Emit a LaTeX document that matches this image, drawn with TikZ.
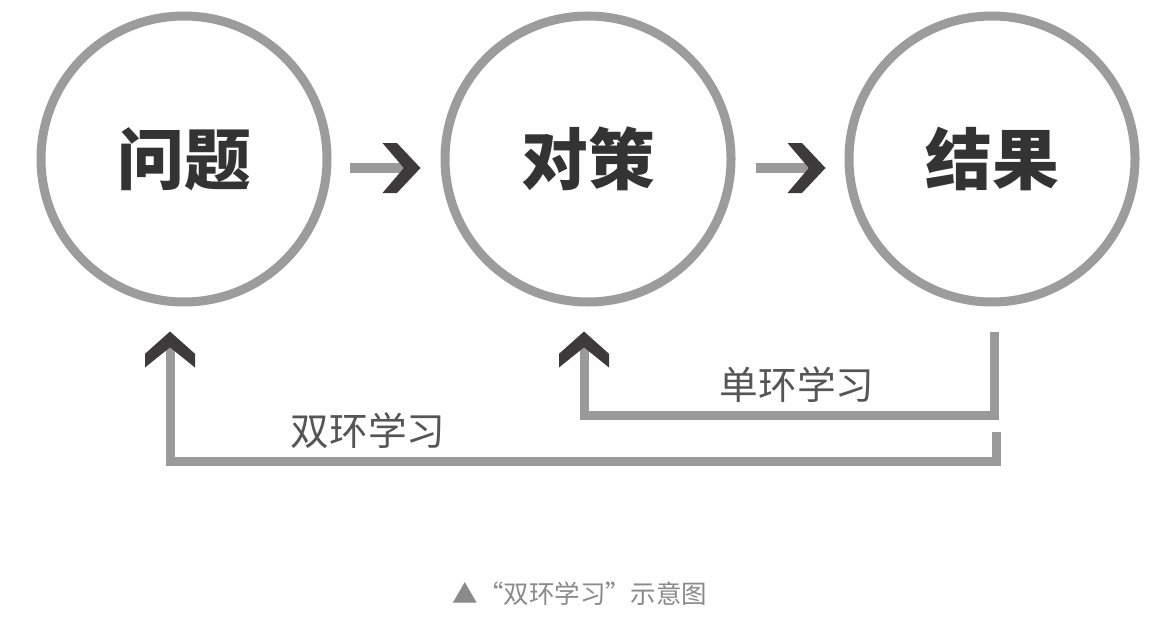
\documentclass[tikz,border=0pt]{standalone}
\usepackage{fontspec}
\setmainfont{Noto Sans CJK SC}
\usepackage{xcolor}
\usepackage{tikz}
\usetikzlibrary{arrows.meta, positioning}
\definecolor{ringgray}{HTML}{9C9C9C}
\definecolor{shaftgray}{HTML}{9A9A9A}
\definecolor{chevron}{HTML}{3D3A3B}
\definecolor{titletext}{HTML}{333333}
\definecolor{looptext}{HTML}{555555}
\definecolor{captext}{HTML}{8A8A8A}

% thick chevron head with flat cut ends
\pgfdeclarearrow{
  name = Chevron,
  parameters = {\the\pgfarrowlength,\the\pgfarrowwidth},
  setup code = {
    \pgfarrowssettipend{\pgfarrowlength}
    \pgfarrowssetlineend{0.56\pgfarrowlength}
    \pgfarrowssetbackend{0pt}
    \pgfarrowshullpoint{\pgfarrowlength}{0pt}
    \pgfarrowsupperhullpoint{0pt}{0.5\pgfarrowwidth}
    \pgfarrowssavethe\pgfarrowlength
    \pgfarrowssavethe\pgfarrowwidth
  },
  drawing code = {
    \pgfpathmoveto{\pgfpoint{0pt}{0.5\pgfarrowwidth}}
    \pgfpathlineto{\pgfpoint{0.38\pgfarrowlength}{0.5\pgfarrowwidth}}
    \pgfpathlineto{\pgfpoint{\pgfarrowlength}{0pt}}
    \pgfpathlineto{\pgfpoint{0.38\pgfarrowlength}{-0.5\pgfarrowwidth}}
    \pgfpathlineto{\pgfpoint{0pt}{-0.5\pgfarrowwidth}}
    \pgfpathlineto{\pgfpoint{0.56\pgfarrowlength}{0pt}}
    \pgfpathclose
    \pgfusepathqfill
  },
  defaults = {length=0.74cm, width=1cm}
}

\begin{document}
\begin{tikzpicture}[
    phase/.style={
      circle,
      draw=ringgray,
      line width=0.18cm,
      minimum size=5.72cm,
      inner sep=0pt,
      text=titletext,
      font=\bfseries\fontsize{38}{38}\selectfont
    },
    flow/.style={
      draw=shaftgray,
      line width=0.2cm,
      -{Chevron[length=0.76cm, width=1.0cm, color=chevron]}
    },
    loopline/.style={
      draw=shaftgray,
      line width=0.18cm,
      line join=miter,
      -{Chevron[length=0.72cm, width=1.0cm, color=chevron]}
    },
    looplabel/.style={text=looptext, font=\fontsize{22}{22}\selectfont, inner sep=2pt}
  ]
    \fill[white] (0,0) rectangle (23.16,-12.56);
    \useasboundingbox (0,0) rectangle (23.16,-12.56);

    \node[phase] (prob) at (3.68,-3.18) {问题};
    \node[phase, right=2.18cm of prob] (cnt) {对策};
    \node[phase, right=2.18cm of cnt] (res) {结果};

    \draw[flow, shorten <=0.36cm, shorten >=0.4cm]
      ([yshift=-0.18cm]prob.east) -- ([yshift=-0.18cm]cnt.west);
    \draw[flow, shorten <=0.4cm, shorten >=0.38cm]
      ([yshift=-0.18cm]cnt.east) -- ([yshift=-0.18cm]res.west);

    % feedback loops
    \coordinate[below=0.5cm of res, xshift=0.04cm] (s1);
    \coordinate[below=0.5cm of cnt, xshift=-0.08cm] (t1);
    \coordinate[below=2.5cm of res, xshift=0.08cm] (s2);
    \coordinate[below=0.5cm of prob, xshift=-0.28cm] (t2);

    \draw[loopline] (s1) -- ++(0,-1.68)
      -| node[looplabel, pos=0.24, above=3pt] {单环学习} (t1);
    \draw[loopline] (s2) -- ++(0,-0.6)
      -| node[looplabel, pos=0.38, above=3pt] {双环学习} (t2);

    \node[text=captext, font=\fontsize{14.5}{14.5}\selectfont] (cap) at (11.6,-11.88) {▲“双环学习”示意图};
  \end{tikzpicture}
\end{document}
